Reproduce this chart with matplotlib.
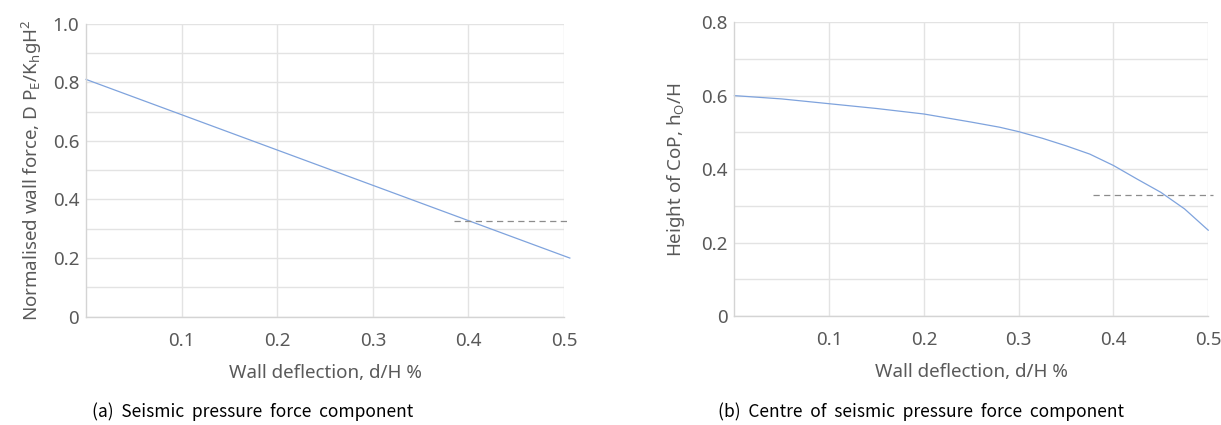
import numpy as np
import matplotlib
matplotlib.use("Agg")
import matplotlib.pyplot as plt
from matplotlib.ticker import MultipleLocator, FuncFormatter

# data
force_x = [0.0, 0.506]
force_y = [0.81, 0.20]
force_ref_x = [0.385, 0.506]
force_ref_y = [0.327, 0.327]

cop_x = [0.0, 0.05, 0.1, 0.15, 0.2, 0.25, 0.28, 0.3, 0.325, 0.35, 0.375, 0.4, 0.425,
         0.45, 0.475, 0.5]
cop_y = [0.60, 0.591, 0.578, 0.565, 0.55, 0.528, 0.514, 0.502, 0.484, 0.4635, 0.441,
         0.41, 0.373, 0.337, 0.292, 0.234]
cop_ref_x = [0.378, 0.505]
cop_ref_y = [0.33, 0.33]

x_ticks = [0.1, 0.2, 0.3, 0.4, 0.5]

plt.rcParams['font.family'] = ['Noto Sans', 'DejaVu Sans']
plt.rcParams['mathtext.fontset'] = 'custom'
plt.rcParams['mathtext.rm'] = 'Noto Sans'
plt.rcParams['mathtext.it'] = 'Noto Sans'

TXT = '#595959'
GRID = '#e3e3e3'
LINE = '#7fa3dd'


def fmt(v, pos):
    if abs(v) < 1e-9:
        return '0'
    return f'{v:.1f}'


def style_axes(ax, ymax):
    ax.set_xlim(0, 0.5)
    ax.set_ylim(0, ymax)
    ax.set_xticks(x_ticks)
    ax.yaxis.set_major_locator(MultipleLocator(0.2))
    ax.yaxis.set_minor_locator(MultipleLocator(0.1))
    ax.yaxis.set_major_formatter(FuncFormatter(fmt))
    ax.xaxis.set_major_formatter(FuncFormatter(fmt))
    ax.grid(True, which='both', axis='y', color=GRID, lw=1.0)
    ax.grid(True, which='major', axis='x', color=GRID, lw=1.0)
    ax.set_axisbelow(True)
    for s in ['top', 'right']:
        ax.spines[s].set_visible(False)
    for s in ['left', 'bottom']:
        ax.spines[s].set_color('#d4d4d4')
        ax.spines[s].set_linewidth(1.0)
    ax.tick_params(axis='both', which='both', length=0, colors=TXT, labelsize=13.5)
    ax.tick_params(axis='x', pad=11)
    ax.tick_params(axis='y', pad=5)
    for lab in ax.get_xticklabels() + ax.get_yticklabels():
        lab.set_fontweight('light')


fig = plt.figure(figsize=(12.21, 4.25), dpi=100)
ax1 = fig.add_axes([0.0705, 0.255, 0.3915, 0.689])
ax2 = fig.add_axes([0.6015, 0.256, 0.388, 0.692])

style_axes(ax1, 1.0)
ax1.plot(force_x, force_y, color=LINE, lw=0.9, clip_on=False)
ax1.plot(force_ref_x, force_ref_y, color='#8c8c8c', lw=0.9, ls=(0, (5, 3.5)), clip_on=False)
ax1.set_xlabel('Wall deflection, d/H %', fontsize=13.5, color=TXT, labelpad=10, fontweight='light')
ax1.set_ylabel(r'Normalised wall force, D P$_\mathrm{E}$/K$_\mathrm{h}$gH$^2$',
               fontsize=13.5, color=TXT, labelpad=6, fontweight='light')

style_axes(ax2, 0.8)
ax2.plot(cop_x, cop_y, color=LINE, lw=0.9, clip_on=False)
ax2.plot(cop_ref_x, cop_ref_y, color='#8c8c8c', lw=0.9, ls=(0, (5, 3.5)), clip_on=False)
ax2.set_xlabel('Wall deflection, d/H %', fontsize=13.5, color=TXT, labelpad=10, fontweight='light')
ax2.set_ylabel(r'Height of CoP, h$_\mathrm{O}$/H', fontsize=13.5, color=TXT, labelpad=10,
               fontweight='light')

cap_font = ['Noto Sans CJK KR', 'DejaVu Sans']
fig.text(0.2066, 0.018, '(a)  Seismic  pressure  force  component', ha='center', va='baseline',
         fontsize=12.5, family=cap_font, color='black')
fig.text(0.7547, 0.018, '(b)  Centre  of  seismic  pressure  force  component', ha='center',
         va='baseline', fontsize=12.5, family=cap_font, color='black')

fig.savefig('out.png', dpi=100)
